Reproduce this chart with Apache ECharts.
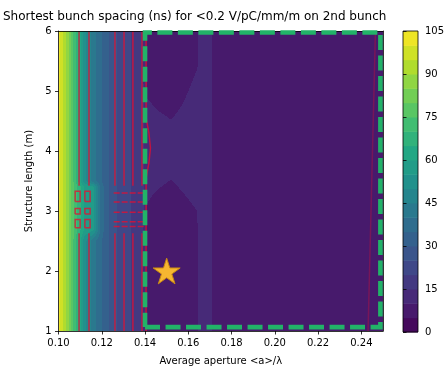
<!DOCTYPE html>
<html>
<head>
<meta charset="utf-8">
<script src="https://cdn.jsdelivr.net/npm/echarts@6/dist/echarts.min.js"></script>
<style>
  html, body { margin: 0; padding: 0; background: #fff; }
  #chart { width: 448px; height: 371px; }
</style>
</head>
<body>
<div id="chart"></div>
<script>
// Grid nodes: average aperture <a>/λ (columns) and structure length in m (rows)
const apertures = [0.100, 0.104, 0.108, 0.112, 0.116, 0.120, 0.125, 0.130, 0.135, 0.139,
                   0.141, 0.1465, 0.152, 0.158, 0.164, 0.168, 0.175, 0.200, 0.250];
const lengths = [1, 2.5, 2.7, 3.0, 3.4, 3.5, 4.0, 4.5, 5.0, 5.5, 6];

// Shortest bunch spacing (ns), one row per structure length
const spacing = [
  [102, 88, 70, 52, 42, 35, 27, 22, 19, 16,  8.0,  7.0,  7.0,  7.0,  9.8, 12, 7, 7, 7],
  [102, 88, 70, 52, 42, 35, 27, 22, 19, 16,  8.0,  7.0,  7.0,  7.0,  9.8, 12, 7, 7, 7],
  [102, 88, 72, 60, 57, 37, 27, 22, 19, 16,  8.5,  7.5,  7.2,  7.5,  9.8, 12, 7, 7, 7],
  [102, 88, 72, 60, 57, 37, 27, 22, 19, 16,  9.7,  8.5,  8.0,  9.0, 10.0, 12, 7, 7, 7],
  [102, 88, 72, 60, 57, 37, 27, 22, 19, 16, 10.7, 10.1,  9.5, 10.4, 11.2, 12, 7, 7, 7],
  [102, 88, 70, 52, 42, 35, 27, 22, 19, 16, 11.0, 10.5,  9.9, 10.8, 11.5, 12, 7, 7, 7],
  [102, 88, 70, 52, 42, 35, 27, 22, 19, 16, 12.0, 12.0, 12.0, 12.0, 12.0, 12, 7, 7, 7],
  [102, 88, 70, 52, 42, 35, 27, 22, 19, 16, 11.5, 10.7, 10.1, 11.0, 12.0, 12, 7, 7, 7],
  [102, 88, 70, 52, 42, 35, 27, 22, 19, 16,  9.5,  8.5,  8.0,  9.5, 11.0, 12, 7, 7, 7],
  [102, 88, 70, 52, 42, 35, 27, 22, 19, 16,  8.0,  7.0,  7.0,  8.0,  9.6, 12, 7, 7, 7],
  [102, 88, 70, 52, 42, 35, 27, 22, 19, 16,  8.0,  7.0,  7.0,  7.0,  9.8, 12, 7, 7, 7]
];

// Filled contour levels (ns) and colorbar ticks
const levels = [0, 5, 10, 15, 20, 25, 30, 35, 40, 45, 50, 55, 60, 65, 70, 75, 80, 85, 90, 95, 100, 105];
const colorbarTicks = [0, 15, 30, 45, 60, 75, 90, 105];
const xTicks = [0.10, 0.12, 0.14, 0.16, 0.18, 0.20, 0.22, 0.24];
const yTicks = [1, 2, 3, 4, 5, 6];

// Red wakefield-limit contour traces
const contourX = [0.1095, 0.1141, 0.1261, 0.1303, 0.1344, 0.1386];
const contourBreak = [2.63, 3.42];                 // lengths where the traces break up
const islandX = [[0.1077, 0.1100], [0.1122, 0.1146]];
const islandY = [[2.72, 2.86], [2.95, 3.04], [3.16, 3.33]];
const rungY = [2.74, 2.82, 2.98, 3.15, 3.30];
const rungX = [0.1255, 0.1395];
const edgeTrace = [[0.1405, 1], [0.1405, 3.55], [0.1418, 3.8], [0.1425, 4.05], [0.1418, 4.3], [0.1405, 4.55], [0.1405, 6]];
const farTrace = [[0.2431, 1], [0.2465, 6]];

// Accepted design region and chosen working point
const regionX = [0.14, 0.2488];
const regionY = [1.065, 5.975];
const workingPoint = [0.15, 2];

const viridisStops = ['#440154', '#482475', '#414487', '#355f8d', '#2a788e', '#21918c',
                      '#22a884', '#44bf70', '#7ad151', '#bddf26', '#fde725'];
function hexRgb(h) { return [1, 3, 5].map(i => parseInt(h.substr(i, 2), 16)); }
function viridis(t) {
  t = Math.max(0, Math.min(1, t));
  const f = t * 10, i = Math.min(9, Math.floor(f)), r = f - i;
  const a = hexRgb(viridisStops[i]), b = hexRgb(viridisStops[i + 1]);
  return 'rgb(' + a.map((c, k) => Math.round(c + (b[k] - c) * r)).join(',') + ')';
}
const vmax = levels[levels.length - 1];
const bandColors = levels.slice(0, -1).map((lo, k) => viridis((lo + levels[k + 1]) / 2 / vmax));
function bandOf(v) {
  for (let k = levels.length - 2; k >= 0; k--) if (v >= levels[k]) return k;
  return 0;
}

// One item per grid cell: corners + the four node values
const cells = [];
for (let i = 0; i < lengths.length - 1; i++) {
  for (let j = 0; j < apertures.length - 1; j++) {
    cells.push([apertures[j], lengths[i], apertures[j + 1], lengths[i + 1],
                spacing[i][j], spacing[i][j + 1], spacing[i + 1][j], spacing[i + 1][j + 1]]);
  }
}

// Bilinear fill of a cell, quantised to the contour levels, merged into vertical runs
function renderCell(params, api) {
  const pa = api.coord([api.value(0), api.value(1)]);
  const pb = api.coord([api.value(2), api.value(3)]);
  const z00 = api.value(4), z10 = api.value(5), z01 = api.value(6), z11 = api.value(7);
  const L = Math.round(pa[0]), R = Math.round(pb[0]);
  const B = Math.round(pa[1]), T = Math.round(pb[1]);
  const children = [];
  for (let px = L; px < R; px++) {
    const u = Math.max(0, Math.min(1, (px + 0.5 - pa[0]) / (pb[0] - pa[0])));
    let start = T, cur = -1;
    for (let py = T; py <= B; py++) {
      let band = -2;
      if (py < B) {
        const t = Math.max(0, Math.min(1, (pa[1] - (py + 0.5)) / (pa[1] - pb[1])));
        const v = z00 * (1 - u) * (1 - t) + z10 * u * (1 - t) + z01 * (1 - u) * t + z11 * u * t;
        band = bandOf(v);
      }
      if (band !== cur) {
        if (cur >= 0) {
          children.push({ type: 'rect', shape: { x: px, y: start, width: 1, height: py - start },
                          style: { fill: bandColors[cur] } });
        }
        cur = band; start = py;
      }
    }
  }
  return { type: 'group', children: children };
}

// Contour polylines
const redPaths = [];
contourX.forEach(x => {
  redPaths.push({ coords: [[x, 1], [x, contourBreak[0]]] });
  redPaths.push({ coords: [[x, contourBreak[1]], [x, 6]] });
});
islandX.forEach(([xa, xb]) => islandY.forEach(([ya, yb]) => {
  redPaths.push({ coords: [[xa, ya], [xb, ya], [xb, yb], [xa, yb], [xa, ya]] });
}));
rungY.forEach(y => redPaths.push({ coords: [[rungX[0], y], [rungX[1], y]],
                                    lineStyle: { type: [6, 2] } }));
redPaths.push({ coords: edgeTrace });
redPaths.push({ coords: farTrace, lineStyle: { opacity: 0.3 } });

function starPath() {
  let d = '';
  for (let k = 0; k < 10; k++) {
    const r = k % 2 ? 0.382 : 1, a = -Math.PI / 2 + k * Math.PI / 5;
    d += (k ? 'L' : 'M') + (r * Math.cos(a)).toFixed(4) + ' ' + (r * Math.sin(a)).toFixed(4) + ' ';
  }
  return 'path://' + d + 'Z';
}

const font = 'DejaVu Sans';
const tickStyle = { show: true, length: 3.5, inside: false, lineStyle: { color: '#000', width: 0.8 } };
const lineStyleAxis = { show: true, lineStyle: { color: '#000', width: 0.8 } };

const chart = echarts.init(document.getElementById('chart'), null, { renderer: 'canvas' });
chart.setOption({
  animation: false,
  backgroundColor: '#fff',
  title: {
    text: 'Shortest bunch spacing (ns) for <0.2 V/pC/mm/m on 2nd bunch',
    left: -2, top: 6,
    textStyle: { fontFamily: font, fontSize: 12, fontWeight: 'normal', color: '#000' }
  },
  grid: [
    { left: 58.5, right: 65, top: 31, bottom: 39 },
    { left: 403, width: 15, top: 31, bottom: 39 }
  ],
  xAxis: [
    {
      type: 'value', gridIndex: 0, min: 0.10, max: 0.25, z: 3,
      name: 'Average aperture <a>/λ', nameLocation: 'middle', nameGap: 25,
      nameTextStyle: { fontFamily: font, fontSize: 10, color: '#000' },
      axisLine: lineStyleAxis,
      axisTick: Object.assign({ customValues: xTicks }, tickStyle),
      axisLabel: { customValues: xTicks, formatter: v => v.toFixed(2), margin: 7,
                   fontFamily: font, fontSize: 10, color: '#000' },
      splitLine: { show: false }
    },
    {
      type: 'value', gridIndex: 0, position: 'top', min: 0.10, max: 0.25, z: 3,
      axisLine: lineStyleAxis, axisTick: { show: false }, axisLabel: { show: false },
      splitLine: { show: false }
    },
    {
      type: 'value', gridIndex: 1, min: 0, max: 1, show: false, splitLine: { show: false }
    }
  ],
  yAxis: [
    {
      type: 'value', gridIndex: 0, min: 1, max: 6, interval: 1, z: 3,
      name: 'Structure length (m)', nameLocation: 'middle', nameGap: 19,
      nameTextStyle: { fontFamily: font, fontSize: 10, color: '#000' },
      axisLine: lineStyleAxis,
      axisTick: Object.assign({ customValues: yTicks }, tickStyle),
      axisLabel: { customValues: yTicks, margin: 7, fontFamily: font, fontSize: 10, color: '#000' },
      splitLine: { show: false }
    },
    {
      type: 'value', gridIndex: 0, position: 'right', min: 1, max: 6, z: 3,
      axisLine: lineStyleAxis, axisTick: { show: false }, axisLabel: { show: false },
      splitLine: { show: false }
    },
    {
      type: 'value', gridIndex: 1, position: 'right', min: 0, max: 105, interval: 15, z: 3,
      axisLine: { show: false },
      axisTick: Object.assign({ customValues: colorbarTicks }, tickStyle),
      axisLabel: { customValues: colorbarTicks, margin: 7, fontFamily: font, fontSize: 10, color: '#000' },
      splitLine: { show: false }
    }
  ],
  series: [
    {
      type: 'custom', name: 'spacing', xAxisIndex: 0, yAxisIndex: 0, z: 1,
      renderItem: renderCell, data: cells,
      encode: { x: [0, 2], y: [1, 3] }, silent: true
    },
    {
      type: 'lines', coordinateSystem: 'cartesian2d', xAxisIndex: 0, yAxisIndex: 0,
      polyline: true, z: 2, silent: true,
      lineStyle: { color: 'rgb(235,12,45)', width: 1.5, opacity: 0.75 },
      data: redPaths
    },
    {
      type: 'lines', coordinateSystem: 'cartesian2d', xAxisIndex: 0, yAxisIndex: 0,
      polyline: true, z: 4, silent: true,
      lineStyle: { color: '#22b368', width: 4.6, type: [15, 5.5], opacity: 1 },
      data: [{ coords: [[regionX[0], regionY[0]], [regionX[1], regionY[0]], [regionX[1], regionY[1]],
                        [regionX[0], regionY[1]], [regionX[0], regionY[0]]] }]
    },
    {
      type: 'scatter', xAxisIndex: 0, yAxisIndex: 0, z: 5, silent: true,
      symbol: starPath(), symbolKeepAspect: true, symbolSize: 27,
      itemStyle: { color: '#f6b631', borderColor: '#c98912', borderWidth: 1, opacity: 1 },
      data: [workingPoint]
    },
    {
      type: 'custom', name: 'colorbar', xAxisIndex: 2, yAxisIndex: 2, z: 1, silent: true,
      data: levels.slice(0, -1).map((lo, k) => [0, lo, 1, levels[k + 1], k]),
      encode: { x: [0, 2], y: [1, 3] },
      renderItem: (params, api) => {
        const p0 = api.coord([api.value(0), api.value(1)]);
        const p1 = api.coord([api.value(2), api.value(3)]);
        return { type: 'rect',
                 shape: { x: p0[0], y: p1[1], width: p1[0] - p0[0], height: p0[1] - p1[1] + 0.5 },
                 style: { fill: bandColors[api.value(4)] } };
      }
    },
    {
      type: 'custom', name: 'colorbar frame', xAxisIndex: 2, yAxisIndex: 2, z: 3, silent: true,
      data: [[0, levels[0], 1, vmax]],
      encode: { x: [0, 2], y: [1, 3] },
      renderItem: (params, api) => {
        const p0 = api.coord([api.value(0), api.value(1)]);
        const p1 = api.coord([api.value(2), api.value(3)]);
        return { type: 'rect',
                 shape: { x: p0[0], y: p1[1], width: p1[0] - p0[0], height: p0[1] - p1[1] },
                 style: { fill: 'none', stroke: '#000', lineWidth: 0.8 } };
      }
    }
  ]
});
</script>
</body>
</html>
